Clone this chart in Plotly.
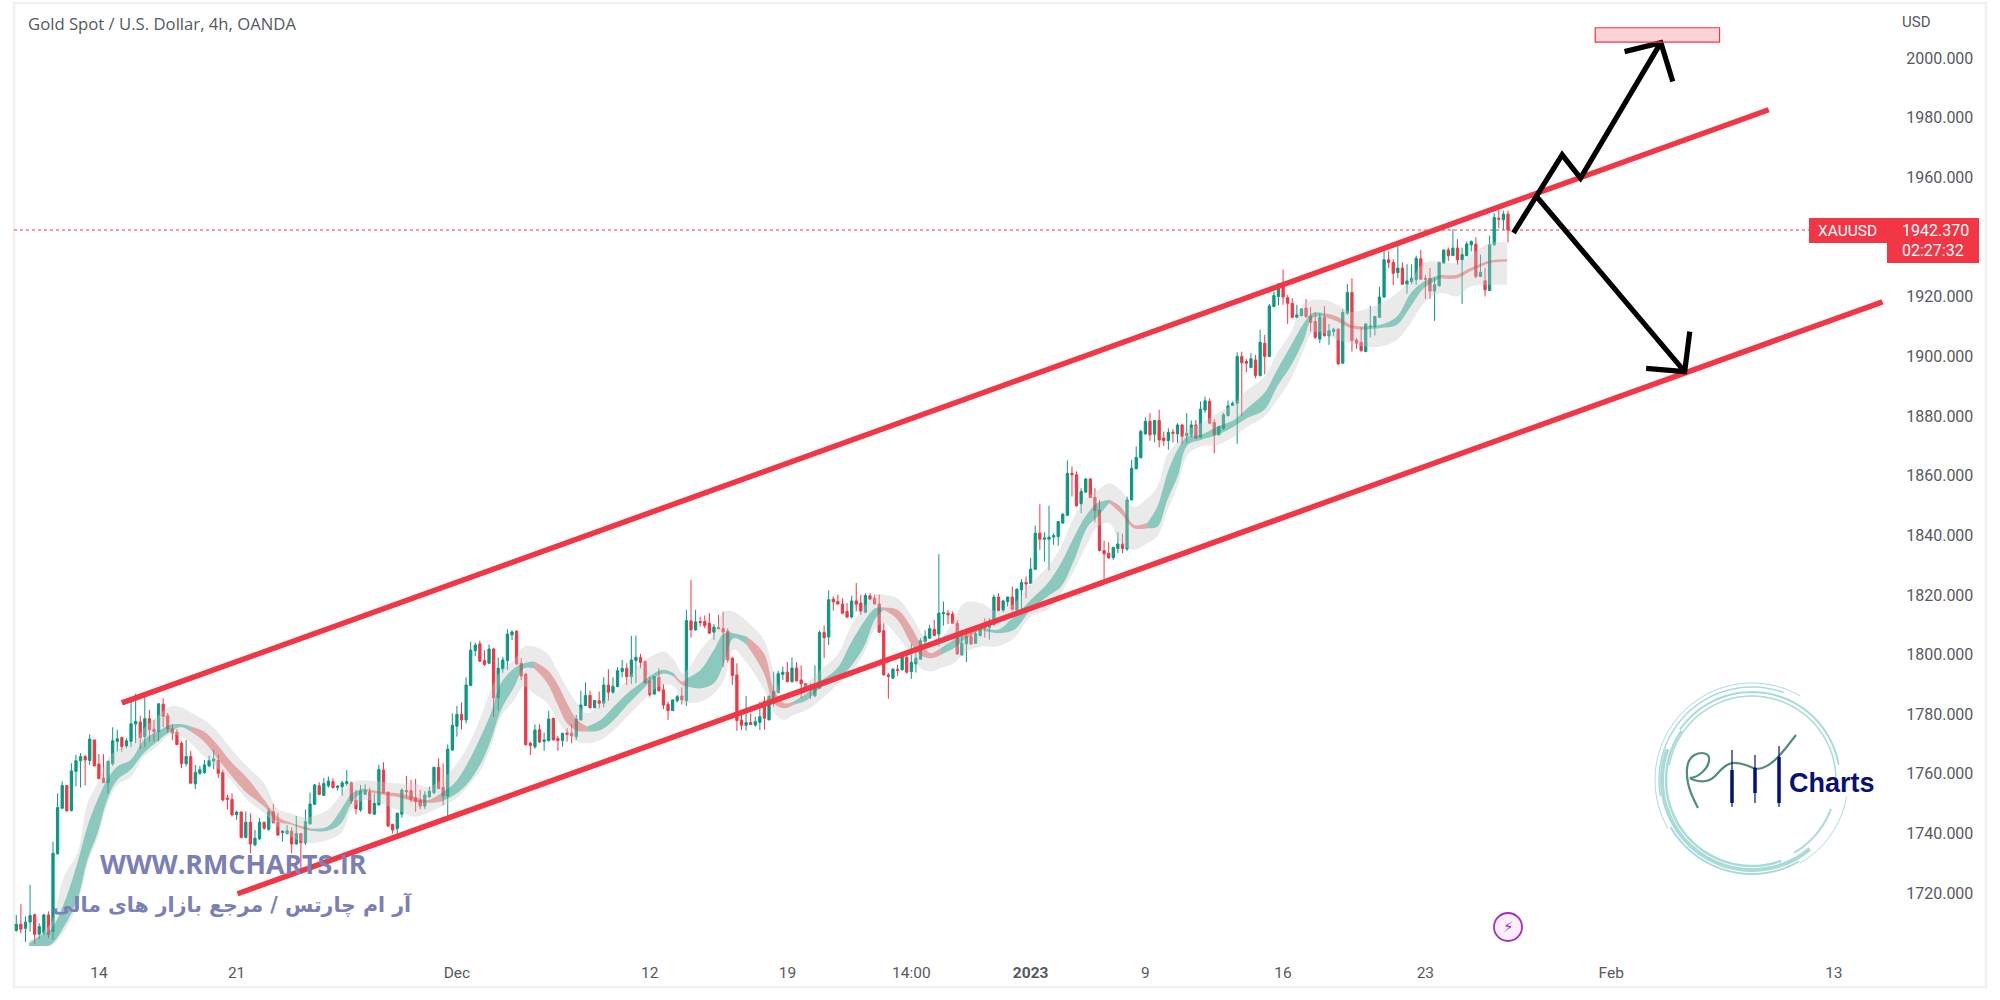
import numpy as np
import plotly.graph_objects as go

# candle values, bar by bar (USD)
candle_dirs = ("GRGGRGGRGG" "GRGGGRGRRR" "GGGRGGGRGR" "RGRRRRRGRG" "GGGGRRRRGR"
               "GRGGRGRRGG" "RGRGGGRGGR" "GGGRRGGRGG" "RRRGGRRRRG" "GGRRGGGRGG"
               "GRRGRGGGGR" "RRRGRGGRRG" "RRGGGRGRGR" "GGGRGGRRRG" "RRRGGRGRGR"
               "RRGRRRRRRG" "RGGRGGGGRG" "RRRRGGRGRR" "RRGRRGRRRR" "RGRGRGGGGG"
               "RGGRRRGGRG" "GRGGRGGRGG" "RGGRGGGGGG" "RRGGRRRRRG" "GRGGGGGRGR"
               "RGRGRGGRGG" "RRGGGGGRRG" "RGRGGGRRRG" "GRRRGRGGRG" "GRRRGGGGGR"
               "RGRGGGRRRG" "GGRGRGGGRG" "RGGRGR")

highs = [
    1712.7, 1716.3, 1712.2, 1722.8, 1713.1, 1709.9, 1713.1, 1713.9, 1737.3, 1753.5,
    1757.5, 1756.1, 1763.6, 1766.4, 1767.0, 1766.4, 1773.3, 1771.4, 1766.7, 1766.6,
    1764.5, 1775.6, 1774.8, 1772.5, 1772.0, 1784.6, 1786.9, 1779.5, 1786.2, 1781.5,
    1778.1, 1783.7, 1785.4, 1780.4, 1776.7, 1775.0, 1770.9, 1771.4, 1767.7, 1763.0,
    1762.7, 1764.7, 1766.1, 1768.1, 1766.4, 1761.4, 1753.0, 1753.5, 1747.7, 1747.4,
    1747.4, 1746.8, 1741.2, 1745.2, 1744.0, 1748.4, 1749.9, 1746.8, 1741.2, 1742.8,
    1742.1, 1745.9, 1740.0, 1748.1, 1753.7, 1756.6, 1757.2, 1758.7, 1759.1, 1758.5,
    1756.3, 1757.7, 1761.3, 1757.4, 1754.6, 1756.3, 1756.5, 1755.4, 1753.5, 1763.1,
    1763.9, 1753.9, 1743.2, 1747.0, 1755.1, 1759.3, 1757.9, 1758.3, 1754.6, 1754.2,
    1755.7, 1762.4, 1765.2, 1763.5, 1769.9, 1780.3, 1782.8, 1784.0, 1792.4, 1804.3,
    1804.0, 1804.7, 1801.5, 1803.4, 1802.1, 1799.0, 1799.3, 1808.5, 1808.2, 1808.0,
    1798.8, 1793.7, 1770.8, 1776.6, 1776.6, 1773.8, 1781.1, 1778.9, 1772.8, 1773.8,
    1775.3, 1776.7, 1779.8, 1787.9, 1790.7, 1787.9, 1784.8, 1787.6, 1792.4, 1795.1,
    1792.4, 1795.8, 1798.2, 1797.1, 1806.3, 1806.4, 1800.2, 1798.0, 1792.6, 1792.8,
    1795.4, 1790.1, 1784.2, 1785.0, 1786.5, 1789.0, 1815.0, 1825.0, 1815.0, 1812.7,
    1813.1, 1813.9, 1810.2, 1813.3, 1814.4, 1808.8, 1799.3, 1797.1, 1781.4, 1786.1,
    1780.3, 1779.2, 1784.2, 1786.0, 1786.5, 1794.3, 1794.6, 1796.0, 1797.5, 1799.1,
    1797.5, 1796.4, 1790.4, 1790.4, 1796.4, 1808.1, 1809.7, 1821.5, 1819.5, 1820.1,
    1818.9, 1817.3, 1819.8, 1824.0, 1820.1, 1820.6, 1820.6, 1820.1, 1820.1, 1810.5,
    1793.8, 1795.5, 1796.6, 1799.9, 1801.0, 1803.6, 1801.0, 1805.5, 1808.1, 1810.0,
    1811.7, 1833.7, 1817.8, 1815.0, 1814.5, 1811.7, 1808.3, 1808.9, 1809.2, 1807.8,
    1810.0, 1812.2, 1812.2, 1820.1, 1820.6, 1818.4, 1819.5, 1822.8, 1822.3, 1825.3,
    1826.2, 1832.5, 1843.3, 1850.4, 1841.0, 1849.9, 1840.7, 1844.6, 1847.4, 1865.1,
    1863.1, 1861.4, 1855.8, 1859.2, 1859.2, 1855.8, 1851.9, 1838.2, 1837.7, 1836.2,
    1841.0, 1840.5, 1853.0, 1865.3, 1869.8, 1875.4, 1879.6, 1881.0, 1878.7, 1882.1,
    1874.8, 1875.9, 1875.6, 1877.6, 1877.3, 1881.0, 1878.5, 1878.7, 1884.9, 1886.5,
    1886.0, 1878.9, 1876.5, 1881.0, 1885.2, 1884.9, 1901.4, 1901.6, 1899.1, 1901.1,
    1900.5, 1908.9, 1907.2, 1917.6, 1921.8, 1924.6, 1929.2, 1920.6, 1919.5, 1917.3,
    1916.2, 1919.2, 1916.5, 1914.7, 1914.5, 1916.9, 1910.9, 1909.5, 1909.5, 1915.8,
    1924.3, 1926.2, 1906.1, 1909.8, 1911.1, 1916.9, 1913.6, 1923.4, 1935.4, 1935.2,
    1932.6, 1937.2, 1931.5, 1930.9, 1930.9, 1933.8, 1935.7, 1927.3, 1929.6, 1926.6,
    1931.6, 1935.7, 1936.5, 1942.7, 1939.3, 1936.5, 1938.5, 1938.9, 1939.9, 1934.1,
    1929.6, 1940.5, 1948.0, 1949.1, 1948.8, 1948.9,
]
body_top = [
    1709.6, 1709.6, 1710.3, 1712.5, 1712.8, 1708.8, 1712.7, 1712.7, 1733.4, 1748.7,
    1756.1, 1756.1, 1761.0, 1764.4, 1765.8, 1765.8, 1771.7, 1771.4, 1763.3, 1758.6,
    1764.2, 1771.1, 1771.8, 1772.2, 1771.1, 1776.8, 1777.6, 1777.4, 1778.5, 1778.5,
    1775.0, 1783.5, 1783.4, 1779.5, 1775.1, 1774.0, 1770.3, 1765.8, 1765.8, 1760.5,
    1761.4, 1763.0, 1764.5, 1765.0, 1764.5, 1760.5, 1751.9, 1751.5, 1747.2, 1747.2,
    1743.8, 1743.8, 1738.4, 1743.8, 1743.8, 1747.3, 1747.3, 1743.7, 1740.8, 1740.9,
    1740.8, 1740.0, 1740.0, 1744.0, 1749.9, 1756.3, 1756.0, 1756.8, 1757.6, 1757.4,
    1755.9, 1757.0, 1757.4, 1757.0, 1751.2, 1754.2, 1754.4, 1753.9, 1750.1, 1761.5,
    1761.3, 1753.9, 1743.1, 1746.8, 1754.6, 1754.4, 1754.4, 1752.0, 1751.2, 1752.9,
    1754.2, 1762.2, 1762.2, 1755.5, 1768.3, 1776.3, 1780.0, 1780.0, 1789.8, 1801.5,
    1803.2, 1803.6, 1798.0, 1801.9, 1801.9, 1795.4, 1798.2, 1806.9, 1807.6, 1807.9,
    1797.1, 1793.5, 1770.3, 1774.7, 1774.8, 1771.4, 1778.4, 1778.6, 1771.9, 1773.6,
    1773.8, 1773.6, 1778.4, 1783.1, 1786.3, 1786.3, 1784.6, 1784.5, 1789.8, 1789.8,
    1789.4, 1794.6, 1795.4, 1795.4, 1798.2, 1799.1, 1799.0, 1797.7, 1791.2, 1792.6,
    1792.4, 1788.2, 1783.3, 1784.8, 1785.9, 1786.1, 1811.4, 1811.3, 1811.0, 1811.1,
    1811.1, 1810.5, 1809.2, 1809.1, 1808.7, 1807.9, 1798.8, 1793.2, 1778.1, 1777.2,
    1777.2, 1777.5, 1779.2, 1784.3, 1786.0, 1787.6, 1793.6, 1794.1, 1794.1, 1795.5,
    1795.5, 1791.5, 1790.2, 1789.5, 1789.9, 1807.4, 1807.4, 1818.4, 1818.6, 1817.8,
    1817.0, 1814.5, 1818.0, 1818.0, 1817.3, 1819.8, 1819.7, 1818.9, 1817.0, 1808.0,
    1793.2, 1795.1, 1795.1, 1799.4, 1799.1, 1797.4, 1798.8, 1804.7, 1806.1, 1808.7,
    1808.5, 1813.9, 1814.1, 1813.9, 1813.6, 1810.5, 1803.8, 1806.1, 1806.1, 1807.0,
    1809.8, 1809.4, 1810.5, 1819.3, 1819.3, 1818.0, 1819.3, 1819.3, 1821.9, 1824.2,
    1824.2, 1828.7, 1840.7, 1840.7, 1839.1, 1839.4, 1839.9, 1844.6, 1847.1, 1860.8,
    1860.8, 1860.3, 1854.7, 1858.9, 1858.9, 1852.7, 1848.5, 1834.9, 1834.0, 1835.9,
    1837.1, 1837.1, 1851.9, 1862.5, 1866.1, 1874.8, 1878.2, 1878.2, 1878.5, 1878.5,
    1872.6, 1874.5, 1874.6, 1877.0, 1877.0, 1874.2, 1877.0, 1877.0, 1882.3, 1885.1,
    1884.9, 1877.8, 1876.5, 1880.4, 1883.4, 1884.3, 1900.0, 1900.0, 1898.3, 1899.2,
    1898.8, 1904.7, 1904.4, 1916.9, 1920.4, 1924.3, 1924.0, 1919.7, 1917.8, 1913.9,
    1915.9, 1916.2, 1913.4, 1911.7, 1913.1, 1913.1, 1908.6, 1909.1, 1909.1, 1914.7,
    1921.4, 1921.4, 1905.5, 1904.7, 1910.9, 1910.2, 1913.4, 1919.9, 1932.4, 1932.4,
    1931.5, 1929.6, 1929.6, 1925.3, 1926.2, 1932.9, 1932.7, 1926.2, 1926.2, 1924.0,
    1931.5, 1935.7, 1935.7, 1936.3, 1936.3, 1934.1, 1937.7, 1938.5, 1937.6, 1928.2,
    1925.4, 1937.4, 1946.6, 1946.3, 1947.7, 1947.7,
]
body_bottom = [
    1707.5, 1707.9, 1708.2, 1710.3, 1706.2, 1706.2, 1706.6, 1706.2, 1707.1, 1733.2,
    1748.5, 1747.6, 1747.7, 1760.8, 1764.4, 1764.7, 1764.5, 1762.7, 1758.4, 1757.1,
    1757.1, 1763.4, 1770.9, 1769.2, 1769.4, 1770.9, 1776.7, 1772.2, 1772.5, 1774.8,
    1774.2, 1774.2, 1779.3, 1775.0, 1773.7, 1769.8, 1763.4, 1763.4, 1756.9, 1756.7,
    1760.2, 1760.5, 1762.7, 1764.3, 1760.2, 1751.3, 1751.5, 1746.3, 1746.3, 1738.7,
    1738.7, 1736.5, 1736.2, 1738.2, 1741.8, 1741.4, 1743.6, 1739.5, 1740.3, 1740.0,
    1736.5, 1736.5, 1736.9, 1736.9, 1743.2, 1749.8, 1753.1, 1752.8, 1756.0, 1755.4,
    1755.4, 1755.7, 1756.8, 1750.9, 1748.3, 1747.9, 1753.2, 1746.8, 1746.5, 1749.6,
    1753.7, 1742.5, 1741.2, 1741.7, 1746.5, 1754.0, 1751.5, 1750.7, 1749.2, 1749.2,
    1752.3, 1753.7, 1755.1, 1752.6, 1752.6, 1768.0, 1776.0, 1778.1, 1778.1, 1789.6,
    1801.3, 1797.8, 1796.7, 1797.1, 1785.5, 1785.5, 1795.2, 1798.0, 1806.6, 1796.9,
    1792.8, 1769.8, 1769.5, 1769.1, 1770.7, 1770.9, 1771.2, 1771.4, 1771.2, 1771.2,
    1773.3, 1772.8, 1772.5, 1778.1, 1782.9, 1782.2, 1782.2, 1783.7, 1783.7, 1787.4,
    1787.4, 1789.3, 1794.3, 1792.6, 1792.6, 1798.0, 1797.4, 1790.6, 1786.5, 1786.8,
    1787.9, 1783.1, 1781.2, 1781.2, 1784.5, 1784.8, 1784.5, 1808.3, 1808.3, 1810.7,
    1809.7, 1807.2, 1807.5, 1808.7, 1807.6, 1798.2, 1793.0, 1777.9, 1776.3, 1776.3,
    1776.6, 1776.4, 1777.3, 1778.7, 1778.1, 1783.7, 1787.3, 1793.4, 1790.9, 1790.9,
    1791.2, 1790.2, 1788.5, 1789.1, 1786.2, 1788.7, 1805.7, 1805.9, 1817.7, 1817.0,
    1813.9, 1812.6, 1812.6, 1816.9, 1814.5, 1814.2, 1818.6, 1817.0, 1807.5, 1793.2,
    1792.7, 1792.1, 1794.7, 1794.9, 1794.1, 1794.3, 1796.9, 1798.5, 1804.4, 1805.5,
    1806.4, 1806.9, 1813.7, 1813.3, 1810.5, 1800.2, 1799.9, 1803.6, 1803.6, 1803.8,
    1806.4, 1808.9, 1809.1, 1810.0, 1814.8, 1814.9, 1817.8, 1815.2, 1815.0, 1821.7,
    1823.7, 1823.9, 1828.6, 1838.7, 1838.7, 1838.7, 1839.4, 1839.6, 1844.1, 1846.7,
    1860.3, 1849.9, 1850.6, 1854.5, 1852.7, 1848.3, 1834.9, 1833.8, 1832.4, 1832.5,
    1835.6, 1835.6, 1835.4, 1851.9, 1862.3, 1866.0, 1874.0, 1873.7, 1873.9, 1872.0,
    1871.8, 1871.8, 1874.2, 1874.0, 1873.1, 1873.4, 1873.7, 1872.6, 1872.9, 1882.0,
    1877.6, 1873.7, 1873.7, 1875.9, 1880.2, 1883.5, 1884.3, 1897.9, 1897.7, 1896.3,
    1893.6, 1893.6, 1900.0, 1900.0, 1916.7, 1920.1, 1919.9, 1917.8, 1913.1, 1913.1,
    1913.7, 1913.4, 1911.4, 1906.4, 1905.8, 1906.9, 1906.9, 1908.3, 1897.5, 1897.7,
    1914.5, 1905.3, 1904.4, 1901.9, 1901.6, 1910.0, 1910.0, 1913.1, 1919.9, 1931.5,
    1927.9, 1928.1, 1924.2, 1924.2, 1925.1, 1925.7, 1925.9, 1925.9, 1921.9, 1921.9,
    1923.7, 1931.3, 1933.8, 1933.8, 1932.4, 1932.4, 1933.8, 1937.4, 1926.8, 1926.8,
    1922.3, 1922.1, 1937.4, 1946.0, 1945.8, 1942.37,
]
lows = [
    1707.1, 1706.6, 1703.6, 1707.1, 1702.9, 1704.6, 1706.0, 1704.9, 1704.3, 1732.9,
    1748.2, 1747.4, 1747.4, 1755.8, 1755.4, 1756.1, 1763.0, 1762.5, 1758.2, 1756.9,
    1753.5, 1762.7, 1767.5, 1767.5, 1768.6, 1769.0, 1770.3, 1768.3, 1769.0, 1770.9,
    1770.9, 1770.9, 1775.7, 1773.7, 1771.4, 1769.8, 1761.9, 1762.5, 1756.7, 1754.9,
    1759.7, 1760.0, 1762.2, 1761.6, 1758.6, 1750.7, 1748.0, 1745.7, 1744.6, 1738.4,
    1738.4, 1733.4, 1735.7, 1737.9, 1741.2, 1740.9, 1743.4, 1739.2, 1737.3, 1739.7,
    1733.3, 1736.1, 1728.3, 1736.1, 1743.1, 1749.5, 1752.9, 1752.6, 1755.4, 1755.1,
    1754.4, 1752.7, 1756.0, 1749.9, 1746.5, 1747.3, 1752.9, 1746.5, 1746.2, 1749.4,
    1753.5, 1742.3, 1740.0, 1740.0, 1745.4, 1751.8, 1750.4, 1747.3, 1748.1, 1748.2,
    1752.0, 1753.2, 1754.9, 1749.4, 1745.4, 1767.8, 1772.5, 1774.9, 1776.9, 1789.5,
    1799.5, 1797.6, 1796.2, 1796.8, 1779.0, 1781.2, 1793.9, 1794.8, 1804.9, 1796.5,
    1791.5, 1769.5, 1766.3, 1768.4, 1770.3, 1767.7, 1770.8, 1771.2, 1767.7, 1769.1,
    1770.8, 1770.3, 1771.4, 1777.9, 1782.8, 1782.0, 1782.0, 1782.0, 1782.3, 1784.5,
    1786.8, 1789.0, 1792.4, 1789.8, 1790.2, 1790.4, 1795.4, 1790.4, 1785.9, 1786.5,
    1787.6, 1781.7, 1778.1, 1781.1, 1784.0, 1783.3, 1782.8, 1805.7, 1808.0, 1809.4,
    1808.8, 1806.9, 1804.9, 1808.5, 1795.8, 1797.3, 1789.8, 1774.4, 1774.7, 1774.5,
    1776.4, 1775.8, 1774.7, 1774.8, 1778.1, 1782.6, 1787.1, 1791.5, 1790.7, 1790.7,
    1791.0, 1785.4, 1787.6, 1785.0, 1785.7, 1788.5, 1798.8, 1803.2, 1814.7, 1816.7,
    1813.7, 1812.2, 1812.2, 1814.5, 1813.3, 1813.9, 1818.4, 1816.7, 1807.4, 1793.0,
    1785.2, 1791.8, 1792.9, 1794.7, 1793.6, 1791.8, 1794.0, 1798.3, 1802.7, 1805.3,
    1806.1, 1802.7, 1809.7, 1810.2, 1810.3, 1799.9, 1799.7, 1797.5, 1803.3, 1803.6,
    1806.1, 1805.7, 1805.0, 1809.7, 1814.5, 1814.2, 1816.1, 1814.8, 1813.6, 1815.0,
    1818.9, 1823.7, 1828.4, 1835.1, 1831.2, 1828.2, 1836.8, 1836.5, 1843.8, 1846.5,
    1853.0, 1849.6, 1847.4, 1854.1, 1852.4, 1844.4, 1834.6, 1825.3, 1832.2, 1831.8,
    1834.0, 1834.0, 1834.8, 1851.6, 1862.2, 1865.9, 1873.7, 1871.7, 1871.2, 1869.5,
    1870.0, 1868.7, 1871.1, 1870.9, 1870.6, 1870.9, 1872.8, 1872.3, 1872.6, 1881.0,
    1877.4, 1867.5, 1873.5, 1875.4, 1879.8, 1883.4, 1870.7, 1880.1, 1894.7, 1896.0,
    1892.7, 1893.2, 1894.0, 1899.7, 1916.5, 1917.1, 1917.3, 1910.9, 1912.8, 1912.8,
    1913.4, 1912.8, 1908.3, 1905.8, 1904.4, 1906.7, 1903.9, 1906.9, 1897.0, 1897.7,
    1913.9, 1901.6, 1902.5, 1901.6, 1901.4, 1906.4, 1907.0, 1913.1, 1919.7, 1929.6,
    1923.8, 1926.2, 1924.0, 1921.0, 1924.2, 1924.0, 1925.7, 1919.3, 1919.3, 1911.9,
    1923.4, 1931.0, 1932.0, 1933.7, 1930.7, 1917.6, 1933.5, 1935.2, 1926.2, 1926.6,
    1920.1, 1922.0, 1937.1, 1943.0, 1942.4, 1938.2,
]

# moving-average ribbon and its grey envelope, read at sampled bars
band_x = [
    2.8, 4.9, 7.5, 10.4, 13.3, 15.5, 17.7, 19.8, 22.0, 24.9, 27.8, 30.7, 33.6, 35.8,
    38.0, 40.9, 43.8, 46.7, 50.3, 54.0, 56.9, 59.8, 62.0, 64.2, 67.8, 70.7, 73.2,
    75.8, 79.4, 83.0, 86.7, 89.6, 92.5, 95.4, 98.3, 101.2, 103.4, 105.6, 108.5,
    110.6, 112.8, 115.7, 117.8, 120.0, 122.2, 124.4, 127.3, 130.2, 133.1, 136.0,
    138.9, 141.1, 143.3, 145.1, 146.2, 149.1, 152.0, 154.2, 156.3, 159.2, 162.9,
    165.1, 167.3, 169.4, 172.3, 175.2, 178.9, 181.8, 184.7, 187.2, 189.0, 192.0,
    194.9, 197.0, 199.2, 201.4, 204.3, 206.5, 210.1, 213.7, 217.4, 221.0, 224.7,
    227.6, 230.5, 233.4, 235.6, 238.1, 240.6, 243.5, 246.4, 248.6, 250.8, 253.0,
    255.2, 258.1, 261.7, 265.3, 268.2, 271.9, 274.7, 277.6, 280.5, 282.3, 284.9,
    287.8, 290.7, 293.6, 297.2, 300.8, 303.8, 306.7, 310.3, 313.9, 316.8, 321.2,
    324.8,
]
ribbon_hi = [
    1703.2, 1705.5, 1707.7, 1716.6, 1730.1, 1742.4, 1751.3, 1758.0, 1762.5, 1764.7,
    1771.4, 1774.2, 1776.5, 1776.7, 1775.9, 1774.2, 1769.8, 1764.2, 1758.6, 1751.3,
    1745.6, 1743.6, 1742.5, 1741.7, 1742.3, 1747.9, 1753.5, 1755.1, 1754.0, 1753.5,
    1752.3, 1751.2, 1753.5, 1756.8, 1763.5, 1772.5, 1780.3, 1790.4, 1795.4, 1797.1,
    1797.7, 1794.9, 1790.4, 1783.7, 1778.1, 1775.9, 1778.1, 1782.6, 1787.0, 1790.4,
    1793.7, 1794.9, 1793.7, 1790.9, 1792.1, 1794.9, 1801.6, 1807.2, 1807.2, 1806.0,
    1800.4, 1788.2, 1783.7, 1784.3, 1787.1, 1791.0, 1795.5, 1803.8, 1811.1, 1815.6,
    1815.8, 1815.0, 1809.4, 1803.8, 1800.5, 1802.2, 1805.0, 1807.2, 1809.7, 1808.3,
    1812.8, 1818.3, 1823.9, 1830.6, 1839.6, 1847.4, 1850.8, 1851.9, 1849.6, 1843.5,
    1844.1, 1849.6, 1860.8, 1868.7, 1873.1, 1873.7, 1876.5, 1878.7, 1882.6, 1887.7,
    1895.5, 1903.3, 1911.1, 1914.5, 1914.5, 1913.4, 1910.6, 1910.0, 1910.6, 1913.4,
    1921.2, 1925.1, 1927.4, 1927.4, 1929.6, 1932.2, 1932.6,
]
ribbon_lo = [
    1702.3, 1702.3, 1702.7, 1708.8, 1717.8, 1731.2, 1740.1, 1751.3, 1758.0, 1761.4,
    1767.0, 1770.9, 1774.2, 1775.7, 1774.2, 1770.9, 1765.3, 1759.7, 1753.5, 1749.1,
    1744.0, 1743.0, 1741.8, 1740.9, 1740.9, 1743.4, 1750.7, 1754.4, 1753.2, 1752.3,
    1750.7, 1750.3, 1750.7, 1752.9, 1756.8, 1763.5, 1771.4, 1781.4, 1789.2, 1795.4,
    1795.4, 1790.4, 1783.7, 1777.0, 1774.5, 1774.2, 1774.7, 1778.1, 1783.1, 1787.6,
    1792.1, 1793.7, 1792.6, 1789.8, 1789.3, 1788.7, 1790.4, 1797.1, 1805.5, 1803.2,
    1793.7, 1783.7, 1782.0, 1783.2, 1784.8, 1788.8, 1791.5, 1796.0, 1802.7, 1812.2,
    1815.0, 1811.7, 1803.8, 1799.9, 1798.8, 1799.9, 1802.2, 1805.0, 1808.3, 1807.2,
    1808.3, 1815.0, 1819.5, 1822.8, 1831.8, 1842.9, 1846.3, 1850.8, 1847.4, 1842.4,
    1842.4, 1842.9, 1851.9, 1859.7, 1870.3, 1872.0, 1873.7, 1876.5, 1879.3, 1882.1,
    1889.9, 1896.6, 1905.5, 1912.8, 1913.4, 1911.7, 1909.5, 1908.9, 1909.5, 1910.6,
    1916.7, 1922.9, 1926.2, 1926.2, 1928.5, 1931.3, 1931.8,
]
grey_hi = [
    1704.1, 1706.0, 1709.9, 1725.6, 1733.4, 1750.2, 1756.9, 1764.7, 1768.1, 1769.8,
    1775.3, 1779.3, 1782.6, 1782.4, 1780.6, 1778.1, 1774.2, 1768.6, 1762.5, 1756.9,
    1748.4, 1746.8, 1745.6, 1745.6, 1747.9, 1752.9, 1757.4, 1757.9, 1757.4, 1756.8,
    1756.8, 1755.7, 1757.9, 1762.4, 1769.1, 1779.2, 1788.1, 1794.8, 1798.2, 1802.7,
    1802.7, 1800.4, 1794.9, 1788.7, 1783.7, 1780.3, 1783.7, 1787.0, 1791.5, 1797.1,
    1799.9, 1801.0, 1798.2, 1793.7, 1794.9, 1801.6, 1807.2, 1814.4, 1814.4, 1811.1,
    1804.9, 1793.8, 1786.0, 1787.1, 1790.4, 1794.9, 1799.9, 1809.4, 1816.1, 1820.1,
    1820.1, 1818.9, 1813.3, 1807.8, 1802.7, 1805.0, 1811.7, 1817.3, 1817.3, 1814.5,
    1817.2, 1823.9, 1829.5, 1836.2, 1846.3, 1853.0, 1855.2, 1857.5, 1855.2, 1849.6,
    1852.4, 1856.3, 1867.0, 1871.4, 1875.4, 1877.6, 1881.0, 1884.3, 1888.8, 1893.2,
    1901.1, 1907.8, 1917.8, 1919.0, 1919.0, 1917.3, 1915.0, 1915.6, 1917.8, 1921.2,
    1925.7, 1931.3, 1931.8, 1931.3, 1934.1, 1938.0, 1938.2,
]
grey_lo = [
    1702.3, 1702.3, 1702.3, 1707.1, 1716.1, 1729.5, 1738.4, 1749.6, 1756.3, 1758.9,
    1765.8, 1769.2, 1773.1, 1772.5, 1770.3, 1765.8, 1761.9, 1758.0, 1751.3, 1746.8,
    1742.3, 1738.9, 1737.3, 1736.7, 1737.8, 1740.0, 1748.4, 1751.2, 1750.1, 1747.9,
    1745.6, 1746.8, 1749.0, 1751.2, 1755.7, 1761.3, 1769.1, 1779.2, 1784.8, 1789.3,
    1787.0, 1783.7, 1778.1, 1773.6, 1770.8, 1770.3, 1771.4, 1774.7, 1779.2, 1783.7,
    1788.2, 1789.8, 1789.3, 1783.7, 1783.7, 1784.2, 1787.0, 1791.5, 1801.6, 1797.1,
    1788.2, 1780.4, 1778.1, 1779.8, 1781.5, 1784.8, 1789.9, 1793.8, 1800.5, 1808.9,
    1810.5, 1806.1, 1799.9, 1795.5, 1794.3, 1795.5, 1797.1, 1800.5, 1802.7, 1802.7,
    1805.5, 1812.7, 1815.0, 1820.6, 1828.4, 1837.3, 1842.9, 1844.1, 1837.3, 1835.1,
    1837.3, 1839.6, 1848.5, 1856.4, 1867.0, 1869.8, 1870.3, 1873.1, 1876.5, 1879.8,
    1885.4, 1892.1, 1902.2, 1907.8, 1907.8, 1905.5, 1904.4, 1903.3, 1903.3, 1905.5,
    1911.1, 1917.8, 1921.2, 1920.1, 1923.4, 1924.0, 1924.0,
]
# one letter per sample: G rising, R falling
ribbon_dirs = ("GGGGGGGGGGGGGG" "RRRRRRRRR" "GGGG" "RRRRR" "GGGGGGGG" "RRRRR" "GGGGGGG"
               "RR" "GGGGG" "RRRR" "GGGGGGG" "RRRRR" "GG" "R" "GGGGGGGGG" "RRR"
               "GGGGGGGGGGGGGG" "RRR" "GGGGG" "RRRRR")

# axis labels
price_ticks = [2000, 1980, 1960, 1920, 1900, 1880, 1860, 1840, 1820, 1800, 1780, 1760, 1740, 1720]
time_tick_bars = [18, 48, 96, 138, 168, 195, 221, 246, 276, 307, 347.5, 396]
time_tick_text = ["14", "21", "Dec", "12", "19", "14:00", "<b>2023</b>", "9", "16", "23", "Feb", "13"]

# hand drawn objects on the chart, in (bar, price)
upper_channel_x, upper_channel_y = [23.0, 381.8], [1783.8, 1982.7]
lower_channel_x, lower_channel_y = [48.2, 406.6], [1719.8, 1918.3]
up_path_x = [326.2, 336.8, 340.8, 358.3]
up_path_y = [1941.4, 1967.6, 1959.8, 2005.2]
up_head_x = [350.4, 358.3, 360.9]
up_head_y = [2002.2, 2005.2, 1992.2]
down_path_x = [330.9, 363.5]
down_path_y = [1954.2, 1894.9]
down_head_x = [355.1, 363.5, 364.6]
down_head_y = [1896.0, 1894.9, 1908.3]
target_box_x = [344.0, 371.1]
target_box_y = [2005.4, 2010.2]
last_price = 1942.37

GREEN = "#089981"
RED = "#f23645"
LABEL = "#555a60"
WATERMARK = "#7c7eb6"
NAVY = "#05107a"
TEAL = "#a9dcd8"

# plot area in page pixels, only used to place the decorations
PL, PR, PT, PB = 14, 1894, 3, 957


def px(x):
    return (x - PL) / (PR - PL)


def py(y):
    return 1 - (y - PT) / (PB - PT)


def arc(cx, cy, r, a0, a1):
    pts = np.radians(np.linspace(a0, a1, 40))
    xs = px(cx + r * np.cos(pts))
    ys = py(cy + r * np.sin(pts))
    return "M" + " L".join(f"{a:.5f},{b:.5f}" for a, b in zip(xs, ys))


def smooth(points):
    d = f"M{px(points[0][0]):.5f},{py(points[0][1]):.5f}"
    for p, q in zip(points[1:-1], points[2:]):
        mx, my = (p[0] + q[0]) / 2, (p[1] + q[1]) / 2
        d += f" Q{px(p[0]):.5f},{py(p[1]):.5f} {px(mx):.5f},{py(my):.5f}"
    return d


fig = go.Figure()

# grey envelope
fig.add_trace(go.Scatter(x=band_x, y=grey_lo, mode="lines", line=dict(width=0, shape="spline"),
                         hoverinfo="skip"))
fig.add_trace(go.Scatter(x=band_x, y=grey_hi, mode="lines", line=dict(width=0, shape="spline"),
                         fill="tonexty", fillcolor="rgba(200,200,200,0.38)", hoverinfo="skip"))

# ribbon, one pair of traces per colour run
start = 0
while start < len(ribbon_dirs) - 1:
    end = start + 1
    while end < len(ribbon_dirs) - 1 and ribbon_dirs[end] == ribbon_dirs[start]:
        end += 1
    colour = "rgba(8,153,129,0.42)" if ribbon_dirs[start] == "G" else "rgba(215,70,70,0.40)"
    fig.add_trace(go.Scatter(x=band_x[start:end + 1], y=ribbon_lo[start:end + 1], mode="lines",
                             line=dict(width=0, shape="spline"), hoverinfo="skip"))
    fig.add_trace(go.Scatter(x=band_x[start:end + 1], y=ribbon_hi[start:end + 1], mode="lines",
                             line=dict(width=0, shape="spline"), fill="tonexty",
                             fillcolor=colour, hoverinfo="skip"))
    start = end

# candles
opens = [b if d == "G" else t for d, t, b in zip(candle_dirs, body_top, body_bottom)]
closes = [t if d == "G" else b for d, t, b in zip(candle_dirs, body_top, body_bottom)]
fig.add_trace(go.Candlestick(
    x=list(range(len(opens))), open=opens, high=highs, low=lows, close=closes,
    increasing=dict(line=dict(color=GREEN, width=1), fillcolor=GREEN),
    decreasing=dict(line=dict(color=RED, width=1), fillcolor=RED),
    whiskerwidth=0, hoverinfo="skip"))

# channel and arrows
for xs, ys in [(upper_channel_x, upper_channel_y), (lower_channel_x, lower_channel_y)]:
    fig.add_trace(go.Scatter(x=xs, y=ys, mode="lines", line=dict(color=RED, width=5.5), hoverinfo="skip"))
for xs, ys in [(up_path_x, up_path_y), (up_head_x, up_head_y),
               (down_path_x, down_path_y), (down_head_x, down_head_y)]:
    fig.add_trace(go.Scatter(x=xs, y=ys, mode="lines", line=dict(color="black", width=5.2), hoverinfo="skip"))

shapes = [
    # frame around the chart
    dict(type="rect", xref="paper", yref="paper", x0=px(14), x1=px(1986), y0=py(3), y1=py(987),
         line=dict(color="#f0f0f0", width=2.5), layer="below"),
    # last price line and its labels
    dict(type="line", xref="paper", yref="y", x0=0, x1=px(1809), y0=last_price, y1=last_price,
         line=dict(color=RED, width=1, dash="dot"), layer="below"),
    dict(type="rect", xref="paper", yref="paper", x0=px(1809), x1=px(1892), y0=py(218), y1=py(243),
         line=dict(width=0), fillcolor=RED),
    dict(type="rect", xref="paper", yref="paper", x0=px(1887), x1=px(1979), y0=py(218), y1=py(263),
         line=dict(width=0), fillcolor=RED),
    # target box
    dict(type="rect", xref="x", yref="y", x0=target_box_x[0], x1=target_box_x[1],
         y0=target_box_y[0], y1=target_box_y[1], line=dict(color=RED, width=1.2),
         fillcolor="rgba(242,54,69,0.22)"),
    # lightning badge
    dict(type="circle", xref="paper", yref="paper", x0=px(1494), x1=px(1522), y0=py(913), y1=py(941),
         line=dict(color="#a32cc4", width=1.8), fillcolor="#fbeefd"),
]

# logo rings
rings = [(97, 150, 300, 1), (93, 170, 290, 1.5), (90, 50, 200, 4), (86, 70, 215, 2.5), (94, 60, 150, 2),
         (84, 190, 360, 1.5), (88, 215, 350, 2), (84, 20, 60, 2), (96, 10, 60, 1)]
for r, a0, a1, w in rings:
    shapes.append(dict(type="path", xref="paper", yref="paper", path=arc(1752, 780, r, a0, a1),
                       line=dict(color=TEAL, width=w)))

# logo signature
shapes.append(dict(type="path", xref="paper", yref="paper", line=dict(color="#4f8f76", width=2.2),
                   path=smooth([(1698, 808), (1690, 793), (1686, 773), (1689, 758), (1700, 752),
                                (1710, 755), (1708, 767), (1697, 777), (1688, 778), (1700, 782),
                                (1712, 780), (1723, 767), (1733, 762), (1747, 765), (1757, 770),
                                (1770, 765), (1782, 753), (1792, 740), (1800, 730)])))

# logo candles
for x, w0, w1, b0, b1 in [(1732, 750, 807, 770, 803), (1755, 755, 803, 768, 793), (1779, 746, 807, 757, 803)]:
    shapes.append(dict(type="line", xref="paper", yref="paper", x0=px(x), x1=px(x), y0=py(w0), y1=py(w1),
                       line=dict(color=NAVY, width=1.2)))
    shapes.append(dict(type="line", xref="paper", yref="paper", x0=px(x), x1=px(x), y0=py(b0), y1=py(b1),
                       line=dict(color=NAVY, width=3.5)))


def note(x, y, text, size, color=LABEL, family="Roboto", anchor="left"):
    return dict(xref="paper", yref="paper", x=px(x), y=py(y), text=text, showarrow=False,
                xanchor=anchor, yanchor="middle", font=dict(size=size, color=color, family=family))


annotations = [
    note(26, 24, "Gold Spot / U.S. Dollar, 4h, OANDA", 16.7, family="Open Sans"),
    note(1900, 22, "USD", 15),
    note(1847, 231, "XAUUSD", 15.5, "white", anchor="center"),
    note(1935, 231, f"{last_price:.3f}", 16, "white", anchor="center"),
    note(1933, 251, "02:27:32", 16, "white", anchor="center"),
    note(233, 863, "<b>WWW.RMCHARTS.IR</b>", 26.8, WATERMARK, "Open Sans", "center"),
    note(232, 904, "<b>آر ام چارتس / مرجع بازار های مالی</b>", 20.5, WATERMARK, "DejaVu Sans", "center"),
    note(1787, 783, "<b>Charts</b>", 27, NAVY, "Liberation Sans"),
    note(1508, 927, "⚡", 15, "#a32cc4", "DejaVu Sans", "center"),
]

fig.update_layout(
    width=2000, height=1000,
    margin=dict(l=PL, r=2000 - PR, t=PT, b=1000 - PB, pad=0),
    plot_bgcolor="white", paper_bgcolor="white",
    showlegend=False,
    shapes=shapes, annotations=annotations,
    xaxis=dict(range=[-0.5, 409.1], rangeslider=dict(visible=False), showgrid=False, zeroline=False,
               showline=False, tickmode="array", tickvals=time_tick_bars, ticktext=time_tick_text,
               ticks="outside", ticklen=1, tickcolor="rgba(0,0,0,0)",
               tickfont=dict(family="Roboto", size=15.5, color=LABEL)),
    yaxis=dict(range=[1698.6, 2018.5], side="right", showgrid=False, zeroline=False, showline=False,
               tickmode="array", tickvals=price_ticks, ticktext=[f"{p:.3f}" for p in price_ticks],
               ticks="outside", ticklen=8, tickcolor="rgba(0,0,0,0)",
               tickfont=dict(family="Roboto", size=16, color=LABEL)),
)

fig.write_html("out.html", config=dict(displayModeBar=False), post_script="document.body.style.margin='0'")
